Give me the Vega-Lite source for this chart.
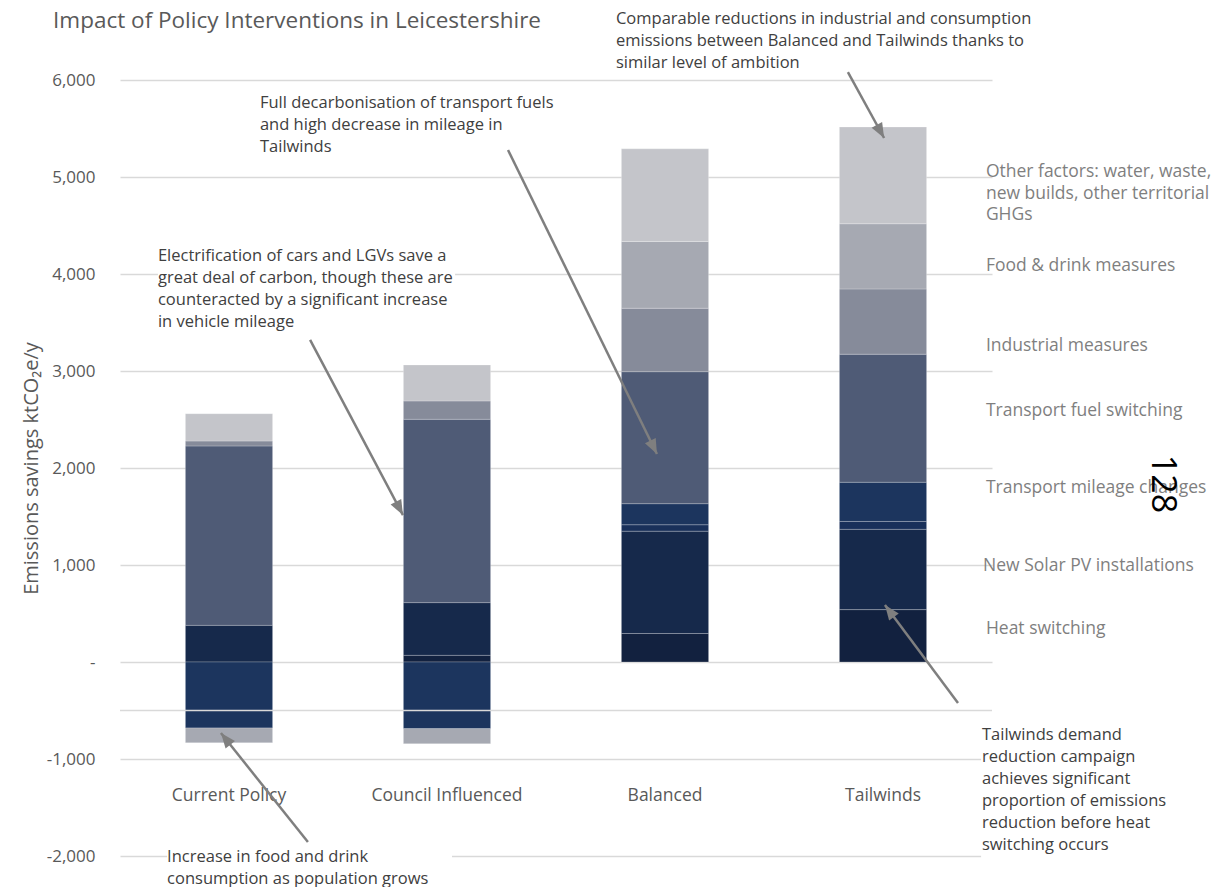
{
  "$schema": "https://vega.github.io/schema/vega-lite/v6.json",
  "width": 872,
  "height": 776,
  "autosize": {"type": "none"},
  "padding": {"left": 120, "top": 80, "right": 219, "bottom": 31},
  "background": "#ffffff",
  "config": {
    "font": "Open Sans",
    "view": {"stroke": null},
    "axis": {"labelFont": "Open Sans", "titleFont": "Open Sans"}
  },
  "resolve": {"scale": {"x": "independent"}},
  "layer": [
    {
      "data": {
        "values": [
          {"scenario": "Current Policy", "measure": "New Solar PV installations", "value": 378, "k": 2},
          {"scenario": "Current Policy", "measure": "Transport mileage changes", "value": -680, "k": 4},
          {"scenario": "Current Policy", "measure": "Transport fuel switching", "value": 1849, "k": 5},
          {"scenario": "Current Policy", "measure": "Industrial measures", "value": 51, "k": 6},
          {"scenario": "Current Policy", "measure": "Food & drink measures", "value": -152, "k": 7},
          {"scenario": "Current Policy", "measure": "Other factors", "value": 282, "k": 8},
          {"scenario": "Council Influenced", "measure": "Heat switching", "value": 69, "k": 1},
          {"scenario": "Council Influenced", "measure": "New Solar PV installations", "value": 543, "k": 2},
          {"scenario": "Council Influenced", "measure": "Transport mileage changes", "value": -687, "k": 4},
          {"scenario": "Council Influenced", "measure": "Transport fuel switching", "value": 1890, "k": 5},
          {"scenario": "Council Influenced", "measure": "Industrial measures", "value": 189, "k": 6},
          {"scenario": "Council Influenced", "measure": "Food & drink measures", "value": -155, "k": 7},
          {"scenario": "Council Influenced", "measure": "Other factors", "value": 371, "k": 8},
          {"scenario": "Balanced", "measure": "Heat switching", "value": 294, "k": 1},
          {"scenario": "Balanced", "measure": "New Solar PV installations", "value": 1055, "k": 2},
          {"scenario": "Balanced", "measure": "Other transport", "value": 66, "k": 3},
          {"scenario": "Balanced", "measure": "Transport mileage changes", "value": 217, "k": 4},
          {"scenario": "Balanced", "measure": "Transport fuel switching", "value": 1361, "k": 5},
          {"scenario": "Balanced", "measure": "Industrial measures", "value": 654, "k": 6},
          {"scenario": "Balanced", "measure": "Food & drink measures", "value": 688, "k": 7},
          {"scenario": "Balanced", "measure": "Other factors", "value": 955, "k": 8},
          {"scenario": "Tailwinds", "measure": "Heat switching", "value": 540, "k": 1},
          {"scenario": "Tailwinds", "measure": "New Solar PV installations", "value": 828, "k": 2},
          {"scenario": "Tailwinds", "measure": "Other transport", "value": 81, "k": 3},
          {"scenario": "Tailwinds", "measure": "Transport mileage changes", "value": 404, "k": 4},
          {"scenario": "Tailwinds", "measure": "Transport fuel switching", "value": 1320, "k": 5},
          {"scenario": "Tailwinds", "measure": "Industrial measures", "value": 673, "k": 6},
          {"scenario": "Tailwinds", "measure": "Food & drink measures", "value": 672, "k": 7},
          {"scenario": "Tailwinds", "measure": "Other factors", "value": 997, "k": 8}
        ]
      },
      "mark": {"type": "bar", "stroke": "#ffffff", "strokeWidth": 0.75, "strokeOpacity": 0.3},
      "encoding": {
        "x": {
          "field": "scenario",
          "type": "nominal",
          "sort": ["Current Policy", "Council Influenced", "Balanced", "Tailwinds"],
          "scale": {"paddingInner": 0.6, "paddingOuter": 0.3},
          "axis": {
            "title": null,
            "orient": "bottom",
            "offset": -72,
            "labelAngle": 0,
            "labelPadding": 2,
            "domain": false,
            "ticks": false,
            "labelFontSize": 17.5,
            "labelColor": "#595959"
          }
        },
        "y": {
          "field": "value",
          "type": "quantitative",
          "stack": "zero",
          "scale": {"domain": [-2000, 6000], "nice": false, "zero": false},
          "axis": {
            "title": "Emissions savings ktCO₂e/y",
            "values": [-2000, -1000, 0, 1000, 2000, 3000, 4000, 5000, 6000],
            "labelExpr": "datum.value == 0 ? '-\u2002' : replace(format(datum.value, ','), '\u2212', '-')",
            "domain": false,
            "ticks": false,
            "grid": true,
            "gridColor": "#d9d9d9",
            "gridWidth": 1.3,
            "labelPadding": 25,
            "labelFontSize": 17,
            "labelColor": "#595959",
            "titleFontSize": 20,
            "titleColor": "#595959",
            "titleFontWeight": "normal",
            "titlePadding": 5
          }
        },
        "color": {
          "field": "measure",
          "type": "nominal",
          "scale": {
            "domain": ["Heat switching", "New Solar PV installations", "Other transport", "Transport mileage changes", "Transport fuel switching", "Industrial measures", "Food & drink measures", "Other factors"],
            "range": ["#12213f", "#16294b", "#19305a", "#1c355e", "#4f5b76", "#868b9a", "#a6a9b2", "#c4c5ca"]
          },
          "legend": null
        },
        "order": {"field": "k", "type": "quantitative"}
      }
    },
    {
      "data": {"values": [{"value": -500}]},
      "mark": {"type": "rule", "color": "#d9d9d9", "strokeWidth": 1.5},
      "encoding": {
        "y": {"field": "value", "type": "quantitative"}
      }
    },
    {
      "data": {
        "values": [
          {"s1": 0.174, "s2": 1.537, "value": 4299, "v2": 3392},
          {"s1": 0.216, "s2": 1.523, "value": -1897, "v2": -2320},
          {"s1": 3.95, "s2": 5.0, "value": -619, "v2": -2041}
        ]
      },
      "mark": {"type": "rect", "color": "#ffffff"},
      "encoding": {
        "x": {"field": "s1", "type": "quantitative", "scale": {"domain": [0, 4], "nice": false, "zero": false}, "axis": null},
        "x2": {"field": "s2"},
        "y": {"field": "value", "type": "quantitative"},
        "y2": {"field": "v2"}
      }
    },
    {
      "data": {
        "values": [
          {"s1": 3.339, "value": 6082, "s2": 3.505, "v2": 5402},
          {"s1": 1.780, "value": 5278, "s2": 2.463, "v2": 2144},
          {"s1": 0.872, "value": 3320, "s2": 1.298, "v2": 1515},
          {"s1": 0.862, "value": -1856, "s2": 0.463, "v2": -732},
          {"s1": 3.844, "value": -423, "s2": 3.509, "v2": 588}
        ]
      },
      "layer": [
        {
          "mark": {"type": "rule", "color": "#7f7f7f", "strokeWidth": 2.5},
          "encoding": {
            "x": {"field": "s1", "type": "quantitative", "scale": {"domain": [0, 4], "nice": false, "zero": false}, "axis": null},
            "x2": {"field": "s2"},
            "y": {"field": "value", "type": "quantitative"},
            "y2": {"field": "v2"}
          }
        },
        {
          "transform": [
            {"calculate": "atan2((datum.s2 - datum.s1) * 218, (datum.v2 - datum.value) * 0.097) * 180 / PI", "as": "ang"}
          ],
          "mark": {"type": "point", "shape": "M0,0L0.4,1L-0.4,1Z", "size": 900, "filled": true, "color": "#7f7f7f", "opacity": 1, "strokeWidth": 0},
          "encoding": {
            "x": {"field": "s2", "type": "quantitative", "scale": {"domain": [0, 4], "nice": false, "zero": false}, "axis": null},
            "y": {"field": "v2", "type": "quantitative"},
            "angle": {"field": "ang", "type": "quantitative", "scale": null}
          }
        }
      ]
    },
    {
      "data": {
        "values": [
          {"t": ["Comparable reductions in industrial and consumption", "emissions between Balanced and Tailwinds thanks to", "similar level of ambition"], "slot": 2.275, "value": 6582},
          {"t": ["Full decarbonisation of transport fuels", "and high decrease in mileage in", "Tailwinds"], "slot": 0.642, "value": 5716},
          {"t": ["Electrification of cars and LGVs save a", "great deal of carbon, though these are", "counteracted by a significant increase", "in vehicle mileage"], "slot": 0.174, "value": 4139},
          {"t": ["Increase in food and drink", "consumption as population grows"], "slot": 0.216, "value": -2057},
          {"t": ["Tailwinds demand", "reduction campaign", "achieves significant", "proportion of emissions", "reduction before heat", "switching occurs"], "slot": 3.954, "value": -809}
        ]
      },
      "mark": {"type": "text", "align": "left", "baseline": "alphabetic", "fontSize": 16.5, "lineHeight": 22, "color": "#404040", "font": "Open Sans"},
      "encoding": {
        "x": {"field": "slot", "type": "quantitative", "scale": {"domain": [0, 4], "nice": false, "zero": false}, "axis": null},
        "y": {"field": "value", "type": "quantitative"},
        "text": {"field": "t"}
      }
    },
    {
      "data": {
        "values": [
          {"t": ["Other factors: water, waste,", "new builds, other territorial", "GHGs"], "slot": 3.972, "value": 5000},
          {"t": ["Food & drink measures"], "slot": 3.972, "value": 4031},
          {"t": ["Industrial measures"], "slot": 3.972, "value": 3206},
          {"t": ["Transport fuel switching"], "slot": 3.972, "value": 2536},
          {"t": ["Transport mileage changes"], "slot": 3.972, "value": 1742},
          {"t": ["New Solar PV installations"], "slot": 3.959, "value": 938},
          {"t": ["Heat switching"], "slot": 3.972, "value": 289}
        ]
      },
      "mark": {"type": "text", "align": "left", "baseline": "alphabetic", "fontSize": 17.5, "lineHeight": 21.5, "color": "#7f7f7f", "font": "Open Sans"},
      "encoding": {
        "x": {"field": "slot", "type": "quantitative", "scale": {"domain": [0, 4], "nice": false, "zero": false}, "axis": null},
        "y": {"field": "value", "type": "quantitative"},
        "text": {"field": "t"}
      }
    },
    {
      "data": {"values": [{"t": "Impact of Policy Interventions in Leicestershire", "slot": -0.307, "value": 6536}]},
      "mark": {"type": "text", "align": "left", "baseline": "alphabetic", "fontSize": 22.5, "color": "#595959", "font": "Open Sans"},
      "encoding": {
        "x": {"field": "slot", "type": "quantitative", "scale": {"domain": [0, 4], "nice": false, "zero": false}, "axis": null},
        "y": {"field": "value", "type": "quantitative"},
        "text": {"field": "t"}
      }
    },
    {
      "data": {"values": [{"t": "128", "slot": 4.78, "value": 1835}]},
      "mark": {"type": "text", "align": "center", "baseline": "middle", "fontSize": 34, "angle": 90, "color": "#000000", "font": "Open Sans"},
      "encoding": {
        "x": {"field": "slot", "type": "quantitative", "scale": {"domain": [0, 4], "nice": false, "zero": false}, "axis": null},
        "y": {"field": "value", "type": "quantitative"},
        "text": {"field": "t"}
      }
    }
  ]
}
